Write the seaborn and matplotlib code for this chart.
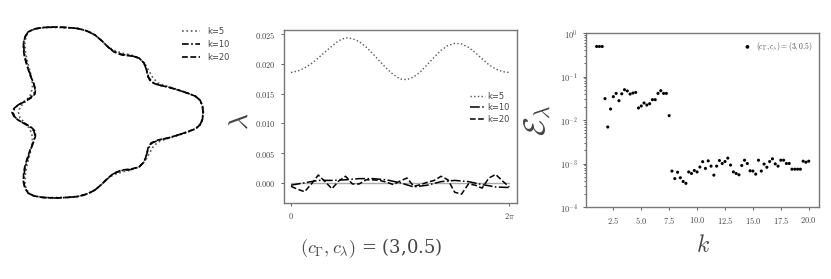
import numpy as np
import pandas as pd
import seaborn as sns
import matplotlib.pyplot as plt
from matplotlib.ticker import FuncFormatter, LogLocator, NullFormatter

sns.set_theme(style="ticks")
plt.rcParams['font.family'] = ['DejaVu Sans']
plt.rcParams['mathtext.fontset'] = 'cm'

# --- panel 1: boundary curves (upper half; lower half is the mirror) ---
y_mid = 112.5
k5_x = [203.5, 202, 197, 188, 176, 166, 158, 153, 149, 145, 139, 131, 122, 113, 106, 100, 92, 83,
        72, 60, 47, 37, 30, 26, 25, 25.5, 27.5, 30, 32, 32.5, 30, 25, 20, 18.5]
k5_y = [112.5, 104, 97, 93, 89, 86, 83, 78, 71, 64, 58, 55, 53, 50, 45, 39, 33, 29.5,
        28, 27.5, 27.5, 28.5, 31, 36, 43, 52, 62, 71, 80, 88, 96, 102, 107, 112.5]
k10_x = [203, 202.5, 200, 195, 187, 178, 168, 159, 152, 148.5, 146.5, 144, 139, 131, 122, 114, 108,
         102, 95, 87, 78, 67, 55, 43, 34, 28, 25, 23.5, 24, 25, 27.5, 30.5, 33.5, 35, 34, 30, 24,
         18, 14.5, 13]
k10_y = [112.5, 106, 100, 96, 93, 90, 87, 85, 82, 77, 70, 63, 58, 55.5, 54.5, 51.5, 47,
         41, 35, 31, 28.5, 27.5, 27, 27.5, 29, 32, 37, 43, 50, 57, 66, 75, 83, 89, 94, 98, 101.5,
         105, 108.5, 112.5]
k20_x = [203, 202.5, 200, 195, 187, 178, 168, 158, 151, 148, 146.5, 144, 139, 131, 122, 114, 108,
         102, 95, 87, 78, 67, 55, 43, 34, 28, 25, 23.5, 23.5, 24.5, 27, 30, 33.5, 35.5, 35, 31, 25,
         18, 14, 12]
k20_y = [112.5, 106, 100, 96, 93, 90, 87, 85, 82, 77, 70, 63, 58, 56, 55, 52, 47,
         41, 35, 31, 28.5, 27.5, 27, 27.5, 29, 32, 37, 43, 50, 57, 66, 75, 83, 89, 94, 98, 101.5,
         105, 108.5, 112.5]

# --- panel 2: lambda along the boundary ---
lam_k5 = [0.01855, 0.01880, 0.01930, 0.02005, 0.02100, 0.02200, 0.02300, 0.02390, 0.02440,
          0.02425, 0.02375, 0.02285, 0.02170, 0.02045, 0.01925, 0.01820, 0.01745, 0.01735,
          0.01780, 0.01870, 0.01990, 0.02115, 0.02230, 0.02310, 0.02345, 0.02335, 0.02280,
          0.02190, 0.02085, 0.01985, 0.01915, 0.01870, 0.01855]
lam_k10 = [-0.0004, 0.0000, 0.0004, 0.0004, 0.0005, 0.0007, 0.0007, 0.0005, 0.0000,
           -0.0007, -0.0004, 0.0002, 0.0004, 0.0002, -0.0003, -0.0007, -0.0008]
lam_k20 = [-0.0006, -0.0011, -0.0015, -0.0002, 0.0013, 0.0002, -0.0010, 0.0003, 0.0011,
           -0.0002, -0.0002, 0.0005, 0.0005, 0.0004, 0.0001, -0.0003, 0.0003, 0.0008,
           -0.0006, -0.0003, 0.0001, 0.0004, 0.0011, 0.0005, -0.0016, -0.0019, -0.0002,
           -0.0004, -0.0009, 0.0008, 0.0014, 0.0003, -0.0007]
lam_zero = [0.0, 0.0]

# --- panel 3: error vs k ---
err = [0.49, 0.49, 0.49, 0.031, 0.0069, 0.0179, 0.0344, 0.0409, 0.0278, 0.040, 0.0497, 0.0464,
       0.0395, 0.0417, 0.043, 0.0189, 0.021, 0.0246, 0.0221, 0.0237, 0.0293, 0.0293, 0.0409,
       0.0472, 0.0409, 0.0409, 0.0126,
       6.7e-4, 4.5e-4, 6.3e-4, 4.7e-4, 3.86e-4, 3.5e-4, 6.4e-4, 5.9e-4, 6.9e-4, 6.4e-4, 8.3e-4,
       1.1e-3, 7.7e-4, 1.15e-3, 8.7e-4, 5.4e-4, 8.7e-4, 1.17e-3, 1.0e-3, 1.11e-3, 1.33e-3,
       9.2e-4, 6.4e-4, 5.9e-4, 5.5e-4, 9.0e-4, 1.19e-3, 1.0e-3, 6.8e-4, 6.7e-4, 5.7e-4, 1.19e-3,
       6.7e-4, 9.7e-4, 8.2e-4, 1.11e-3, 1.28e-3, 9.8e-4, 8.7e-4, 1.19e-3, 1.19e-3, 1.0e-3,
       1.0e-3, 7.4e-4, 7.4e-4, 7.4e-4, 7.4e-4, 1.13e-3, 1.07e-3, 1.13e-3]
k_vals = np.arange(1.0, 20.25, 0.25)

txt = '#444444'
frame = '#777777'

fig = plt.figure(figsize=(8.31, 2.79), dpi=100)

# panel 1
ax1 = fig.add_axes([0, 0, 249 / 831, 1])
def closed(xs, ys):
    fx = list(xs) + list(xs[::-1][1:])
    fy = list(ys) + [2 * y_mid - y for y in ys[::-1][1:]]
    return fx, fy
for xs, ys, lab, ls, col in [(k5_x, k5_y, 'k=5', ':', '#555555'),
                             (k10_x, k10_y, 'k=10', (0, (4, 1.5, 1, 1.5)), 'black'),
                             (k20_x, k20_y, 'k=20', (0, (3.5, 1.5)), 'black')]:
    fx, fy = closed(xs, ys)
    sns.lineplot(x=fx, y=fy, sort=False, estimator=None, ax=ax1, color=col,
                 linestyle=ls, lw=1.2, label=lab)
ax1.set_xlim(0, 249)
ax1.set_ylim(279, 0)
ax1.axis('off')
ax1.legend(loc='upper left', bbox_to_anchor=(0.70, 0.93), frameon=False, fontsize=6,
           handlelength=2.2, labelspacing=0.5, labelcolor=txt)

# panel 2
ax2 = fig.add_axes([284 / 831, 1 - 203 / 279, 233 / 831, 173 / 279])
t5 = np.linspace(0, 2 * np.pi, len(lam_k5))
t10 = np.linspace(0, 2 * np.pi, len(lam_k10))
t20 = np.linspace(0, 2 * np.pi, len(lam_k20))
sns.lineplot(x=[0, 2 * np.pi], y=lam_zero, ax=ax2, color='#aaaaaa', lw=1.0)
sns.lineplot(x=t5, y=lam_k5, ax=ax2, color='#555555', linestyle=':', lw=1.0, label='k=5')
sns.lineplot(x=t10, y=lam_k10, ax=ax2, color='black', linestyle='-.', lw=1.1, label='k=10')
sns.lineplot(x=t20, y=lam_k20, ax=ax2, color='black', linestyle='--', lw=1.1, label='k=20')
ax2.set_xlim(-0.2, 2 * np.pi + 0.22)
ax2.set_ylim(-0.0034, 0.0257)
yt = [0.0, 0.005, 0.010, 0.015, 0.020, 0.025]
ax2.set_yticks(yt)
ax2.set_yticklabels(['$%.3f$' % v for v in yt])
ax2.set_xticks([0, 2 * np.pi])
ax2.set_xticklabels(['$0$', r'$2\pi$'])
ax2.set_ylabel(r'$\lambda$', fontsize=20, color=txt)
ax2.yaxis.set_label_coords(-0.13, 0.47)
ax2.legend(loc='center right', bbox_to_anchor=(1.0, 0.55), frameon=False, fontsize=6,
           handlelength=1.8, handletextpad=0.2, labelspacing=0.3, labelcolor=txt)
ax2.text(0.373, -0.26, r'$(c_\Gamma, c_\lambda)$ = (3,0.5)', transform=ax2.transAxes,
         ha='center', va='center', fontsize=13, color=txt, family='DejaVu Serif')

# panel 3
ax3 = fig.add_axes([586 / 831, 1 - 207 / 279, 233 / 831, 174 / 279])
sns.scatterplot(x=k_vals, y=err, ax=ax3, color='black', s=5, edgecolor='none',
                label=r'$(c_\Gamma, c_\lambda) = (3, 0.5)$')
ax3.set_yscale('log')
ax3.set_ylim(1e-4, 1e0)
ax3.set_xlim(0.05, 20.92)
ax3.yaxis.set_major_locator(LogLocator(base=10, numticks=10))
ax3.yaxis.set_major_formatter(FuncFormatter(lambda v, p: r'$10^{%d}$' % round(np.log10(v))))
ax3.yaxis.set_minor_locator(LogLocator(base=10, subs=np.arange(2, 10), numticks=20))
ax3.yaxis.set_minor_formatter(NullFormatter())
xt = [2.5, 5.0, 7.5, 10.0, 12.5, 15.0, 17.5, 20.0]
ax3.set_xticks(xt)
ax3.set_xticklabels(['$%.1f$' % v for v in xt])
ax3.set_ylabel(r'$\mathcal{E}_\lambda$', fontsize=22, color=txt)
ax3.yaxis.set_label_coords(-0.14, 0.5)
ax3.set_xlabel(r'$k$', fontsize=17, color=txt, labelpad=5)
ax3.legend(loc='upper right', frameon=False, fontsize=5.5, handletextpad=0.1,
           markerscale=1.2, labelcolor=txt)

for ax in (ax2, ax3):
    for s in ax.spines.values():
        s.set_color(frame)
        s.set_linewidth(1.0)
    ax.tick_params(which='both', labelsize=6, colors=txt, length=2.5, width=0.6)
    ax.tick_params(which='minor', length=1.5)

fig.savefig('out.png', dpi=100)
